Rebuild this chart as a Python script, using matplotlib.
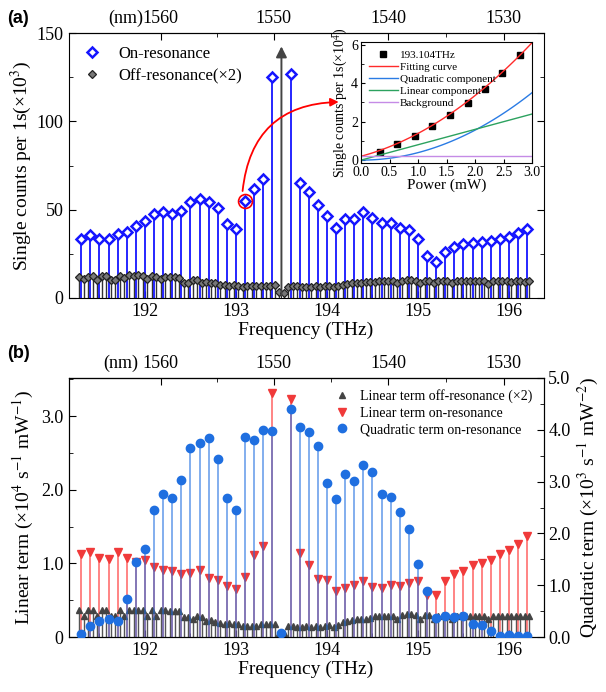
import numpy as np
import matplotlib
matplotlib.use("Agg")
import matplotlib.pyplot as plt
import matplotlib.transforms as mtransforms
from matplotlib.ticker import MultipleLocator, FuncFormatter
from matplotlib.lines import Line2D

plt.rcParams['font.family'] = ['Liberation Serif', 'DejaVu Serif']
plt.rcParams['mathtext.fontset'] = 'stix'

# on-resonance channel grid (THz), 193.5 is the pump
freq = [191.3, 191.4, 191.5, 191.6, 191.7, 191.8, 191.9, 192.0, 192.1, 192.2,
        192.3, 192.4, 192.5, 192.6, 192.7, 192.8, 192.9, 193.0, 193.1, 193.2,
        193.3, 193.4, 193.5, 193.6, 193.7, 193.8, 193.9, 194.0, 194.1, 194.2,
        194.3, 194.4, 194.5, 194.6, 194.7, 194.8, 194.9, 195.0, 195.1, 195.2,
        195.3, 195.4, 195.5, 195.6, 195.7, 195.8, 195.9, 196.0, 196.1, 196.2]

# (a) single counts on resonance (x10^3)
on_counts = [33.2, 35.7, 33.6, 33.6, 36.0, 37.2, 40.9, 43.8, 47.5, 48.9,
             47.5, 49.2, 54.5, 56.0, 54.1, 50.7, 41.9, 38.9, 54.9, 61.9,
             67.4, 125.0, np.nan, 127.0, 64.9, 59.8, 52.5, 46.6, 39.8, 44.9,
             44.9, 48.5, 45.5, 42.5, 42.5, 39.8, 38.7, 33.4, 23.9, 20.2,
             25.9, 28.9, 30.4, 31.0, 31.9, 32.4, 33.4, 34.7, 36.8, 39.2]

# off-resonance grid (THz)
off_freq = [191.275, 191.325, 191.375, 191.425, 191.475, 191.525, 191.575, 191.625, 191.675, 191.725,
            191.775, 191.825, 191.875, 191.925, 191.975, 192.025, 192.075, 192.125, 192.175, 192.225,
            192.275, 192.325, 192.375, 192.425, 192.475, 192.525, 192.575, 192.625, 192.675, 192.725,
            192.775, 192.825, 192.875, 192.925, 192.975, 193.025, 193.075, 193.125, 193.175, 193.225,
            193.275, 193.325, 193.375, 193.425, 193.475, 193.525, 193.575, 193.625, 193.675, 193.725,
            193.775, 193.825, 193.875, 193.925, 193.975, 194.025, 194.075, 194.125, 194.175, 194.225,
            194.275, 194.325, 194.375, 194.425, 194.475, 194.525, 194.575, 194.625, 194.675, 194.725,
            194.775, 194.825, 194.875, 194.925, 194.975, 195.025, 195.075, 195.125, 195.175, 195.225,
            195.275, 195.325, 195.375, 195.425, 195.475, 195.525, 195.575, 195.625, 195.675, 195.725,
            195.775, 195.825, 195.875, 195.925, 195.975, 196.025, 196.075, 196.125, 196.175, 196.225]

# (a) single counts off resonance (x2, x10^3)
off_counts = [11.7, 10.6, 12.1, 12.5, 10.2, 12.5, 12.5, 10.2, 10.2, 12.5,
              11.1, 13.0, 12.5, 13.0, 12.5, 10.6, 12.5, 12.1, 10.6, 12.1,
              12.1, 11.7, 11.1, 8.7, 8.3, 10.2, 10.2, 8.3, 9.2, 8.3,
              8.3, 7.4, 7.4, 6.8, 7.4, 6.8, 6.4, 6.8, 6.8, 6.8,
              6.8, 6.8, 7.0, 7.4, 3.6, 3.0, 6.4, 6.8, 6.8, 6.0,
              6.0, 6.4, 6.8, 6.4, 6.8, 6.8, 6.4, 7.0, 7.6, 8.0,
              8.3, 8.5, 8.7, 9.0, 9.2, 9.2, 9.4, 9.6, 9.4, 9.6,
              8.7, 9.8, 10.2, 10.4, 9.8, 8.5, 9.8, 9.8, 8.5, 9.6,
              9.8, 9.6, 8.3, 9.4, 9.8, 9.4, 9.6, 9.6, 9.6, 9.4,
              8.1, 9.4, 9.6, 9.4, 9.6, 9.2, 9.4, 9.4, 9.2, 9.4]

# (b) linear term on resonance (x10^4 s^-1 mW^-1)
lin_on = [1.13, 1.16, 1.07, 1.06, 1.16, 1.07, 1.02, 1.04, 0.95, 0.91,
          0.90, 0.85, 0.87, 0.91, 0.80, 0.78, 0.69, 0.65, 0.81, 1.12,
          1.24, 3.32, np.nan, 3.24, 1.14, 0.98, 0.79, 0.78, 0.63, 0.66,
          0.71, 0.76, 0.68, 0.67, 0.70, 0.69, 0.74, 0.76, 0.57, 0.57,
          0.76, 0.86, 0.90, 0.98, 1.01, 1.05, 1.13, 1.18, 1.26, 1.37]

# (b) quadratic term on resonance (x10^3 s^-1 mW^-2)
quad_on = [0.05, 0.22, 0.30, 0.35, 0.30, 0.73, 1.45, 1.70, 2.45, 2.77,
           2.68, 3.04, 3.64, 3.75, 3.84, 3.44, 2.68, 2.45, 3.87, 3.80,
           4.00, 3.98, 0.07, 4.40, 4.05, 3.95, 3.68, 2.97, 2.66, 3.15,
           3.02, 3.32, 3.18, 2.76, 2.70, 2.41, 2.08, 1.41, 0.88, 0.36,
           0.41, 0.39, 0.41, 0.26, 0.23, 0.12, 0.02, 0.04, 0.01, 0.01]

# (b) linear term off resonance (x2)
lin_off = [0.37, 0.29, 0.37, 0.37, 0.29, 0.37, 0.37, 0.29, 0.29, 0.37,
           0.29, 0.37, 0.37, 0.37, 0.37, 0.29, 0.37, 0.29, 0.37, 0.37,
           0.36, 0.35, 0.35, 0.27, 0.27, 0.24, 0.29, 0.27, 0.22, 0.23,
           0.20, 0.19, 0.18, 0.19, 0.18, 0.17, 0.15, 0.15, 0.15, 0.15,
           0.17, 0.18, 0.18, 0.18, 0.06, 0.05, 0.15, 0.15, 0.13, 0.14,
           0.15, 0.14, 0.15, 0.13, 0.15, 0.16, 0.14, 0.16, 0.20, 0.22,
           0.23, 0.24, 0.25, 0.25, 0.26, 0.28, 0.29, 0.29, 0.29, 0.28,
           0.25, 0.30, 0.31, 0.31, 0.30, 0.24, 0.30, 0.30, 0.24, 0.29,
           0.30, 0.29, 0.25, 0.29, 0.30, 0.29, 0.29, 0.29, 0.29, 0.29,
           0.24, 0.29, 0.29, 0.29, 0.29, 0.28, 0.29, 0.29, 0.28, 0.29]

# inset: power dependence at 193.104 THz
power = [0.33, 0.64, 0.95, 1.25, 1.56, 1.87, 2.17, 2.48, 2.79]
counts_p = [0.42, 0.82, 1.25, 1.77, 2.35, 2.99, 3.72, 4.52, 5.46]
fit_bg, fit_lin, fit_quad = 0.2, 0.8, 0.39

nm_ticks = [1560, 1550, 1540, 1530]
nm_minor = [1555, 1545, 1535]
C = 299792.458


def thz2nm(f):
    f = np.asarray(f, dtype=float)
    return C / np.where(f == 0, 1e-9, f)


def top_axis(ax, fig, nm_label, shift):
    sec = ax.secondary_xaxis('top', functions=(thz2nm, thz2nm))
    sec.set_xticks(nm_ticks)
    sec.set_xticks(nm_minor, minor=True)
    sec.tick_params(which='both', direction='in', labelsize=13, pad=4)
    sec.tick_params(which='major', length=5)
    sec.tick_params(which='minor', length=3)
    x0 = (C / 1560 - ax.get_xlim()[0]) / (ax.get_xlim()[1] - ax.get_xlim()[0])
    tr = ax.transAxes + mtransforms.ScaledTranslation(0, 4 / 72, fig.dpi_scale_trans)
    ax.text(x0 - shift, 1.0, nm_label, transform=tr, ha='right', va='bottom', fontsize=13)


fig = plt.figure(figsize=(6.06, 6.92), dpi=100)
W, H = 606, 692
xlim = (191.16, 196.38)

# ---------------- (a) ----------------
ax = fig.add_axes([68.5 / W, (H - 298) / H, 475 / W, 265 / H])
ax.vlines(off_freq, 0, off_counts, color='#333333', lw=1.0, zorder=2)
ax.plot(off_freq, off_counts, 'D', ms=3.6, mfc='#777777', mec='#222222', mew=0.9, zorder=3)
ax.vlines(freq, 0, on_counts, color='#1515ff', lw=1.3, zorder=2)
ax.plot(freq, on_counts, 'D', ms=5, mfc='white', mec='#1515ff', mew=1.8, zorder=4)
ax.plot(193.1, 54.9, 'o', ms=10, mfc='none', mec='red', mew=1.2, zorder=5)
ax.annotate('', xy=(193.5, 144), xytext=(193.5, 0),
            arrowprops=dict(arrowstyle='-|>', color='#444444', lw=1.4, mutation_scale=16), zorder=5)
ax.annotate('', xy=(194.16, 111), xytext=(193.07, 59),
            arrowprops=dict(arrowstyle='-|>', color='red', lw=1.3, mutation_scale=12,
                            connectionstyle='arc3,rad=-0.45'), zorder=5)
ax.set_xlim(*xlim)
ax.set_ylim(0, 150)
ax.xaxis.set_major_locator(MultipleLocator(1))
ax.xaxis.set_minor_locator(MultipleLocator(0.5))
ax.yaxis.set_major_locator(MultipleLocator(50))
ax.yaxis.set_minor_locator(MultipleLocator(25))
ax.tick_params(which='both', direction='in', right=True, labelsize=13)
ax.tick_params(which='major', length=5)
ax.tick_params(which='minor', length=3)
ax.set_xlabel('Frequency (THz)', fontsize=14, labelpad=1)
ax.set_ylabel('Single counts per 1s(×10$^3$)', fontsize=14, labelpad=2)
top_axis(ax, fig, '(nm)', 0.038)
h_on = Line2D([], [], ls='none', marker='D', ms=5, mfc='white', mec='#1515ff', mew=1.8)
h_off = Line2D([], [], ls='none', marker='D', ms=3.6, mfc='#777777', mec='#222222', mew=0.9)
ax.legend([h_on, h_off], ['On-resonance', 'Off-resonance(×2)'], loc='upper left',
          frameon=False, fontsize=12, handlelength=1.2, handletextpad=1.0,
          borderaxespad=0.4, labelspacing=0.35)
fig.text(0.012, 0.985, '(a)', fontsize=13, fontweight='bold', family='Liberation Sans',
         ha='left', va='top')

# inset
ins = fig.add_axes([361 / W, (H - 163) / H, 171 / W, 121 / H])
pp = np.linspace(0, 3, 100)
ins.plot(power, counts_p, 's', ms=4, color='black', ls='none', label='193.104THz')
ins.plot(pp, fit_bg + fit_lin * pp + fit_quad * pp ** 2, color='#ff2a2a', lw=1, label='Fitting curve')
ins.plot(pp, fit_quad * pp ** 2, color='#2a7be4', lw=1, label='Quadratic component')
ins.plot(pp, fit_lin * pp, color='#2ca25f', lw=1, label='Linear component')
ins.plot(pp, np.full_like(pp, fit_bg), color='#c58be6', lw=1, label='Background')
ins.set_xlim(0, 3)
ins.set_ylim(-0.15, 6.15)
ins.xaxis.set_major_locator(MultipleLocator(0.5))
ins.yaxis.set_major_locator(MultipleLocator(2))
ins.yaxis.set_minor_locator(MultipleLocator(1))
ins.tick_params(which='both', direction='in', labelsize=10, pad=2)
ins.tick_params(which='major', length=3)
ins.tick_params(which='minor', length=2)
ins.set_xlabel('Power (mW)', fontsize=11, labelpad=0)
ins.set_ylabel('Single counts per 1s(×10$^4$)', fontsize=10, labelpad=1)
ins.legend(loc='upper left', frameon=False, fontsize=8, handlelength=2.6,
           handletextpad=0.2, borderaxespad=0.3, labelspacing=0.2)

# ---------------- (b) ----------------
bx = fig.add_axes([68.5 / W, (H - 637) / H, 475 / W, 259 / H])
bx2 = bx.twinx()
bx.vlines(off_freq, 0, lin_off, color='#555555', lw=1.0, zorder=2)
bx.plot(off_freq, lin_off, '^', ms=5, color='#444444', zorder=3)
bx.vlines(freq, 0, lin_on, color='#ff3333', lw=1.3, alpha=0.65, zorder=2)
bx.plot(freq, lin_on, 'v', ms=5.5, color='#f03a3a', zorder=4)
bx2.vlines(freq, 0, quad_on, color='#1f6fe0', lw=1.3, alpha=0.6, zorder=2)
bx2.plot(freq, quad_on, 'o', ms=6, color='#1f6fe0', zorder=4)
bx.set_xlim(*xlim)
bx.set_ylim(0, 3.52)
bx2.set_ylim(0, 5.0)
bx.xaxis.set_major_locator(MultipleLocator(1))
bx.xaxis.set_minor_locator(MultipleLocator(0.5))
bx.yaxis.set_major_locator(MultipleLocator(1))
bx.yaxis.set_minor_locator(MultipleLocator(0.5))
bx.yaxis.set_major_formatter(FuncFormatter(lambda v, p: '0' if v == 0 else f'{v:.1f}'))
bx2.yaxis.set_major_locator(MultipleLocator(1))
bx2.yaxis.set_minor_locator(MultipleLocator(0.5))
bx2.yaxis.set_major_formatter(FuncFormatter(lambda v, p: f'{v:.1f}'))
for a in (bx, bx2):
    a.tick_params(which='both', direction='in', labelsize=13)
    a.tick_params(which='major', length=5)
    a.tick_params(which='minor', length=3)
bx.set_xlabel('Frequency (THz)', fontsize=14, labelpad=1)
bx.set_ylabel('Linear term (×10$^4$ s$^{-1}$ mW$^{-1}$)', fontsize=14, labelpad=4)
bx2.set_ylabel('Quadratic term (×10$^3$ s$^{-1}$ mW$^{-2}$)', fontsize=14, labelpad=4)
top_axis(bx, fig, '(nm)', 0.048)
g1 = Line2D([], [], ls='none', marker='^', ms=5, color='#444444')
g2 = Line2D([], [], ls='none', marker='v', ms=5.5, color='#f03a3a')
g3 = Line2D([], [], ls='none', marker='o', ms=6, color='#1f6fe0')
bx2.legend([g1, g2, g3], ['Linear term off-resonance (×2)', 'Linear term on-resonance',
                          'Quadratic term on-resonance'],
           loc='upper right', frameon=False, fontsize=10, handlelength=1.0,
           handletextpad=0.8, borderaxespad=0.4, labelspacing=0.25)
fig.text(0.012, 0.502, '(b)', fontsize=13, fontweight='bold', family='Liberation Sans',
         ha='left', va='top')

fig.savefig('out.png', dpi=100)
